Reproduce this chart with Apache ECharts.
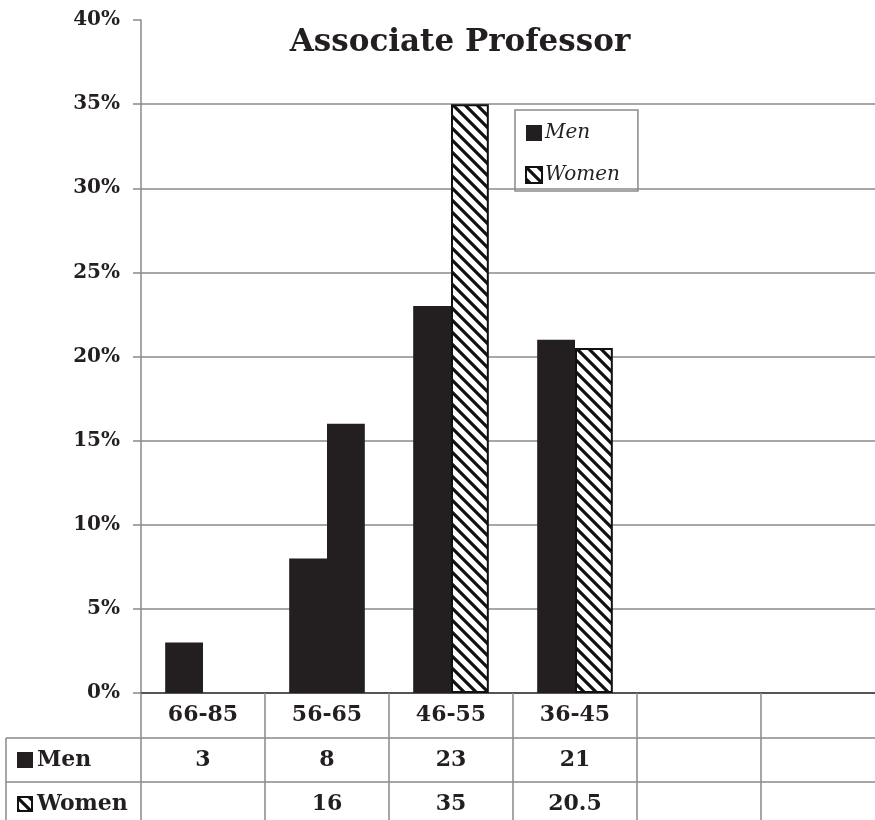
<!DOCTYPE html>
<html>
<head>
<meta charset="utf-8">
<style>
  html, body { margin: 0; padding: 0; background: #fff; }
  #chart { width: 875px; height: 820px; }
</style>
<script src="https://cdn.jsdelivr.net/npm/echarts@6/dist/echarts.min.js"></script>
</head>
<body>
<div id="chart"></div>
<script>
// Age bands and share of associate professors (%) per band
const ageBands = ['66-85', '56-65', '46-55', '36-45', '', ''];
const men      = [3, 8, 23, 21, null, null];
const women    = [null, 16, 35, 20.5, null, null];
const seriesNames = ['Men', 'Women'];
const yTicks = { min: 0, max: 40, step: 5 };

const INK = '#231f20';
const RULE = '#8a8a8a';
const FONT = 'DejaVu Serif';

// Diagonal "\" hatch tile used for the women bars
function makeHatch() {
  const s = 12;
  const c = document.createElement('canvas');
  c.width = s; c.height = s;
  const g = c.getContext('2d');
  g.fillStyle = '#fff';
  g.fillRect(0, 0, s, s);
  g.strokeStyle = '#111';
  g.lineWidth = 3.2;
  g.beginPath();
  for (let k = -1; k <= 1; k++) {
    g.moveTo(-2, -2 + k * s);
    g.lineTo(s + 2, s + 2 + k * s);
  }
  g.stroke();
  return c;
}
const hatch = { image: makeHatch(), repeat: 'repeat' };

const fmt = v => (v == null ? '' : String(v));

// One bar in the 56-65 band of the women series is printed solid
const solidWomenIndex = 1;
const womenData = women.map((v, i) => i === solidWomenIndex && v != null
  ? { value: v, itemStyle: { color: INK, borderWidth: 0 } }
  : v);

const chart = echarts.init(document.getElementById('chart'));

const tableLabel = {
  interval: 0,
  fontFamily: FONT,
  fontWeight: 'bold',
  fontSize: 22,
  color: INK,
  margin: 11
};

chart.setOption({
  animation: false,
  backgroundColor: '#fff',
  title: {
    text: 'Associate Professor',
    left: 455,
    top: 22,
    textAlign: 'center',
    textStyle: { fontFamily: FONT, fontWeight: 'bold', fontSize: 31, color: INK }
  },
  legend: {
    data: seriesNames,
    orient: 'vertical',
    left: 515,
    top: 110,
    padding: [13, 18, 6, 10],
    itemGap: 22,
    itemWidth: 16,
    itemHeight: 16,
    icon: 'rect',
    borderColor: RULE,
    borderWidth: 1.5,
    textStyle: { fontFamily: FONT, fontStyle: 'italic', fontSize: 20, color: INK, padding: [0, 0, 0, -2] }
  },
  grid: { left: 141, top: 20, width: 744, height: 673, outerBoundsMode: 'none', containLabel: false },
  xAxis: [
    {
      type: 'category',
      data: ageBands,
      axisLine: { lineStyle: { color: '#555', width: 2 } },
      axisTick: { show: true, length: 133, interval: 0, lineStyle: { color: RULE, width: 1.5 } },
      axisLabel: tableLabel,
      splitLine: { show: false }
    },
    {
      type: 'category',
      data: men.map(fmt),
      position: 'bottom',
      offset: 45,
      axisLine: { show: false },
      axisTick: { show: false },
      axisLabel: tableLabel
    },
    {
      type: 'category',
      data: women.map(fmt),
      position: 'bottom',
      offset: 89,
      axisLine: { show: false },
      axisTick: { show: false },
      axisLabel: tableLabel
    }
  ],
  yAxis: {
    type: 'value',
    min: yTicks.min,
    max: yTicks.max,
    interval: yTicks.step,
    axisLine: { show: true, lineStyle: { color: RULE, width: 1.5 } },
    axisTick: { show: true, length: 8, lineStyle: { color: RULE, width: 1.5 } },
    axisLabel: {
      formatter: '{value}%',
      fontFamily: FONT,
      fontWeight: 'bold',
      fontSize: 20,
      color: INK,
      margin: 21
    },
    splitLine: { show: true, showMaxLine: false, lineStyle: { color: RULE, width: 1.5 } }
  },
  series: [
    {
      name: seriesNames[0],
      type: 'bar',
      data: men,
      barGap: '0%',
      barCategoryGap: '39%',
      itemStyle: { color: INK }
    },
    {
      name: seriesNames[1],
      type: 'bar',
      data: womenData,
      itemStyle: { color: hatch, borderColor: '#111', borderWidth: 2 }
    }
  ],
  graphic: [
    // data-table rules and row headers
    { type: 'line', shape: { x1: 6, y1: 738, x2: 875, y2: 738 }, style: { stroke: RULE, lineWidth: 1.5 } },
    { type: 'line', shape: { x1: 6, y1: 782, x2: 875, y2: 782 }, style: { stroke: RULE, lineWidth: 1.5 } },
    { type: 'line', shape: { x1: 6, y1: 738, x2: 6, y2: 820 }, style: { stroke: RULE, lineWidth: 1.5 } },
    { type: 'rect', shape: { x: 17, y: 752, width: 16, height: 16 }, style: { fill: INK } },
    { type: 'text', x: 37, y: 760, style: { text: seriesNames[0], fontFamily: FONT, fontWeight: 'bold', fontSize: 22, fill: INK, verticalAlign: 'middle' } },
    { type: 'rect', shape: { x: 18, y: 797, width: 14, height: 14 }, style: { fill: hatch, stroke: '#111', lineWidth: 2 } },
    { type: 'text', x: 37, y: 804, style: { text: seriesNames[1], fontFamily: FONT, fontWeight: 'bold', fontSize: 22, fill: INK, verticalAlign: 'middle' } }
  ]
});
</script>
</body>
</html>
